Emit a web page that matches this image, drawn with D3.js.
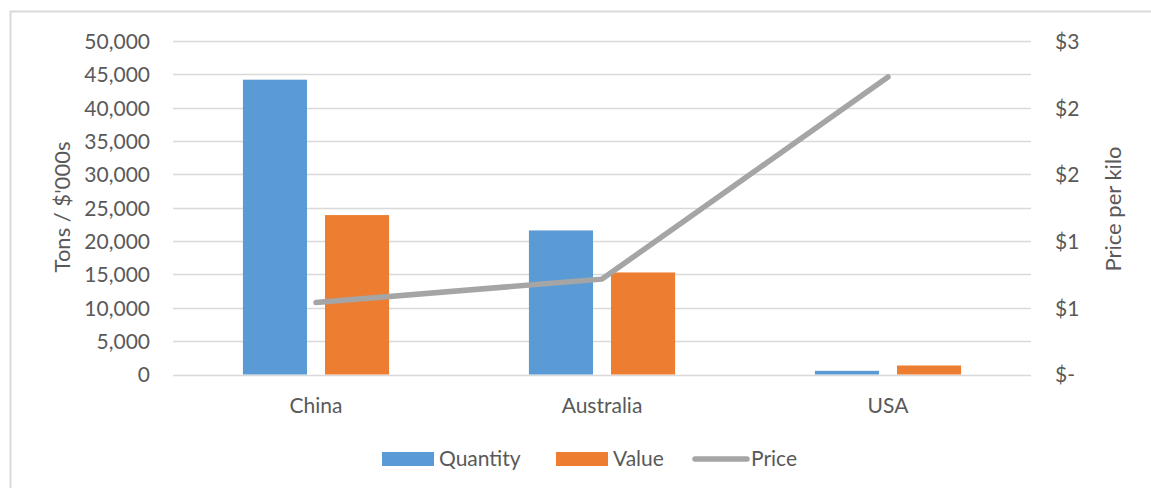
<!DOCTYPE html>
<html>
<head>
<meta charset="utf-8">
<script src="https://cdn.jsdelivr.net/npm/d3@7"></script>
<style>
  html, body { margin: 0; padding: 0; background: #fff; }
  svg { display: block; }
  text { font-family: Lato, "Open Sans", sans-serif; fill: #595959; }
</style>
</head>
<body>
<svg id="chart" width="1151" height="488"></svg>
<script>
// Exports by country
const categories = ["China", "Australia", "USA"];
const quantity = [44200, 21600, 550];   // tons
const value = [23900, 15300, 1350];     // $'000s
const price = [0.54, 0.715, 2.23];      // $ per kilo
const leftTicks = [0, 5000, 10000, 15000, 20000, 25000, 30000, 35000, 40000, 45000, 50000];
const rightTicks = [0, 0.5, 1, 1.5, 2, 2.5];
const seriesNames = ["Quantity", "Value", "Price"];
const colors = { Quantity: "#5b9bd5", Value: "#ed7d31", Price: "#a5a5a5" };

const svg = d3.select("#chart");
const plot = { left: 173, right: 1031, top: 41, bottom: 374.5 };

// Chart frame
svg.append("rect")
  .attr("x", 10.5).attr("y", 11.5)
  .attr("width", 1160).attr("height", 500)
  .attr("fill", "none").attr("stroke", "#d9d9d9").attr("stroke-width", 2);

const x = d3.scaleBand().domain(categories).range([plot.left, plot.right]);
const yL = d3.scaleLinear().domain([0, 50000]).range([plot.bottom, plot.top]);
const yR = d3.scaleLinear().domain([0, 2.5]).range([plot.bottom, plot.top]);

// Gridlines
svg.append("g")
  .selectAll("line").data(leftTicks).join("line")
  .attr("x1", plot.left).attr("x2", plot.right)
  .attr("y1", d => Math.round(yL(d)) + 0.5).attr("y2", d => Math.round(yL(d)) + 0.5)
  .attr("stroke", "#d9d9d9").attr("stroke-width", 1.5);

// Left axis
const fmtL = d3.format(",");
const leftAxis = svg.append("g")
  .attr("transform", `translate(${plot.left - 23},0)`)
  .call(d3.axisLeft(yL).tickValues(leftTicks).tickFormat(fmtL).tickSize(0).tickPadding(0));
leftAxis.select(".domain").remove();
leftAxis.selectAll("text").style("font-size", "21px").attr("fill", "#595959")
  .style("font-family", "Lato, sans-serif").attr("dy", "0.35em");

// Right axis: values rounded to whole dollars, zero shown as "$-"
const fmtR = d => d === 0 ? "$-" : "$" + Math.round(d + 1e-9);
const rightAxis = svg.append("g")
  .attr("transform", `translate(${plot.right + 24},0)`)
  .call(d3.axisRight(yR).tickValues(rightTicks).tickFormat(fmtR).tickSize(0).tickPadding(0));
rightAxis.select(".domain").remove();
rightAxis.selectAll("text").style("font-size", "21px").attr("fill", "#595959")
  .style("font-family", "Lato, sans-serif").attr("dy", "0.35em");

// Category axis labels
const bottomAxis = svg.append("g")
  .attr("transform", `translate(0,${plot.bottom})`)
  .call(d3.axisBottom(x).tickSize(0).tickPadding(24));
bottomAxis.select(".domain").remove();
bottomAxis.selectAll("text").style("font-size", "21px").attr("fill", "#595959")
  .style("font-family", "Lato, sans-serif");

// Axis titles
svg.append("text")
  .attr("transform", "translate(70,207) rotate(-90)")
  .attr("text-anchor", "middle").style("font-size", "22px")
  .text("Tons / $'000s");
svg.append("text")
  .attr("transform", "translate(1121,209) rotate(-90)")
  .attr("text-anchor", "middle").style("font-size", "22px")
  .text("Price per kilo");

// Bars
const barW = x.bandwidth() * 0.224;
const barGap = x.bandwidth() * 0.063;
const barData = categories.map((c, i) => [
  { cat: c, key: "Quantity", v: quantity[i], off: -barGap / 2 - barW },
  { cat: c, key: "Value", v: value[i], off: barGap / 2 }
]).flat();
svg.append("g").selectAll("rect").data(barData).join("rect")
  .attr("x", d => x(d.cat) + x.bandwidth() / 2 + d.off)
  .attr("width", barW)
  .attr("y", d => yL(d.v))
  .attr("height", d => yL(0) - yL(d.v))
  .attr("fill", d => colors[d.key]);

// Price line
const line = d3.line()
  .x((d, i) => x(categories[i]) + x.bandwidth() / 2)
  .y(d => yR(d));
svg.append("path").datum(price)
  .attr("d", line)
  .attr("fill", "none").attr("stroke", colors.Price)
  .attr("stroke-width", 5.5).attr("stroke-linecap", "round").attr("stroke-linejoin", "round");

// Legend
const legend = svg.append("g").attr("transform", "translate(0,459)");
const legendPos = [382, 556, 693];
seriesNames.forEach((name, i) => {
  const g = legend.append("g").attr("transform", `translate(${legendPos[i]},0)`);
  if (name === "Price") {
    g.append("line").attr("x1", 2).attr("x2", 54).attr("y1", 0).attr("y2", 0)
      .attr("stroke", colors.Price).attr("stroke-width", 5.5).attr("stroke-linecap", "round");
    g.append("text").attr("x", 58).attr("dy", "0.35em").style("font-size", "21px").text(name);
  } else {
    g.append("rect").attr("x", 0).attr("y", -7).attr("width", 52).attr("height", 14)
      .attr("fill", colors[name]);
    g.append("text").attr("x", 57).attr("dy", "0.35em").style("font-size", "21px").text(name);
  }
});
</script>
</body>
</html>
